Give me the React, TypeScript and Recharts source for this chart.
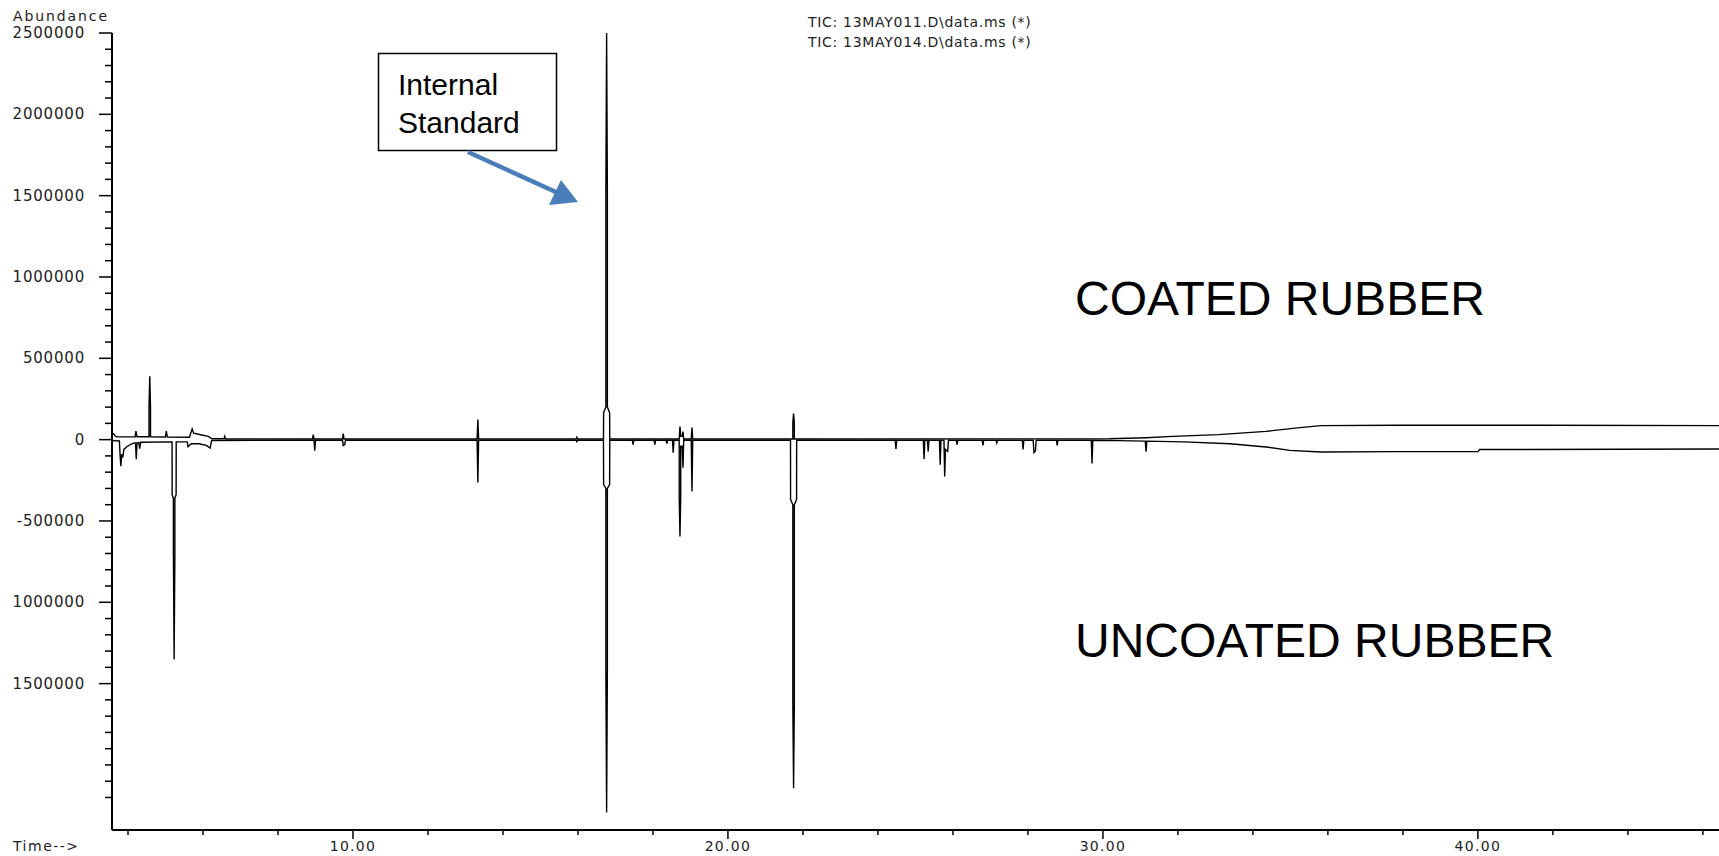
// Mirrored TIC chromatogram: coated vs uncoated rubber

import React from "react";
import { LineChart, Line, XAxis, YAxis } from "recharts";

// time axis (min)
const timeDomain = [3.573, 46.43];
const timeTicks = Array.from({ length: 22 }, (_, i) => 4 + i * 2);
const timeLabels = [10, 20, 30, 40];

// abundance axis
const abundanceDomain = [-2400000, 2500000];
const abundanceTicks = Array.from({ length: 48 }, (_, i) => -2200000 + i * 100000);
const abundanceLabelValues = [2500000, 2000000, 1500000, 1000000, 500000, 0, -500000, -1000000, -1500000];
const abundanceLabelTexts = ["2500000", "2000000", "1500000", "1000000", "500000", "0", "-500000", "1000000", "1500000"];

// 13MAY011 - coated rubber, [time, abundance]
const coatedTrace: [number, number][] = [
  [3.6, 40000], [3.67, 20000], [3.73, 17000],
  [4.19, 17000], [4.21, 52000], [4.24, 18000],
  [4.56, 18000], [4.56, 196000], [4.58, 389000], [4.6, 196000], [4.6, 18000],
  [5.0, 16000], [5.02, 53000], [5.05, 16000],
  [5.64, 15000], [5.71, 66000], [5.75, 40000], [5.94, 30000], [6.14, 20000], [6.24, 5000],
  [6.56, 5000], [6.58, 20000], [6.6, 4000],
  [8.92, 4000], [8.94, 31000], [8.96, 4000],
  [9.72, 4000], [9.74, 37000], [9.76, 4000],
  [13.31, 4000], [13.33, 123000], [13.35, 4000],
  [15.95, 4000], [15.97, 15000], [15.99, 4000],
  [16.68, 4000], [16.684, 166000], [16.744, 200000], [16.744, 1525000], [16.764, 2500000],
  [16.784, 1525000], [16.784, 200000], [16.844, 166000], [16.848, 4000],
  [18.7, 4000], [18.72, 80000], [18.74, 20000], [18.78, 20000], [18.8, 50000], [18.82, 4000],
  [19.02, 4000], [19.04, 74000], [19.06, 4000],
  [21.73, 4000], [21.73, 104000], [21.75, 160000], [21.77, 104000], [21.77, 4000],
  [30.17, 5000], [31.15, 12000], [31.86, 20000], [33.08, 31000], [34.35, 51000], [35.19, 72000],
  [35.81, 86000], [37.81, 88000], [41.77, 88000], [46.43, 86000],
];

// 13MAY014 - uncoated rubber, plotted mirrored (negative)
const uncoatedTrace: [number, number][] = [
  [3.6, -6000], [3.77, -8000], [3.79, -102000], [3.81, -164000], [3.83, -90000], [3.86, -110000],
  [3.89, -60000], [3.96, -45000], [4.06, -30000], [4.16, -20000],
  [4.2, -20000], [4.22, -121000], [4.24, -20000],
  [4.29, -18000], [4.31, -55000], [4.34, -16000],
  [5.175, -14000], [5.177, -338000], [5.21, -360000], [5.21, -686000], [5.23, -1351000],
  [5.25, -686000], [5.25, -360000], [5.283, -338000], [5.285, -14000],
  [5.58, -14000], [5.6, -43000], [5.69, -25000], [5.89, -25000], [6.09, -35000], [6.19, -52000], [6.23, -5000],
  [8.96, -4000], [8.98, -68000], [9.0, -4000],
  [9.72, -4000], [9.74, -37000], [9.78, -31000], [9.8, -4000],
  [13.31, -4000], [13.33, -264000], [13.35, -4000],
  [15.95, -4000], [15.97, -12000], [15.99, -4000],
  [16.68, -4000], [16.684, -276000], [16.744, -300000], [16.744, -1419000], [16.764, -2292000],
  [16.784, -1419000], [16.784, -300000], [16.844, -276000], [16.848, -4000],
  [17.45, -4000], [17.47, -30000], [17.49, -4000],
  [18.03, -4000], [18.05, -30000], [18.07, -4000],
  [18.35, -4000], [18.37, -25000], [18.39, -4000],
  [18.52, -4000], [18.54, -80000], [18.56, -4000],
  [18.7, -4000], [18.7, -350000], [18.72, -596000], [18.74, -350000], [18.74, -40000], [18.78, -40000], [18.8, -172000], [18.82, -4000],
  [19.02, -4000], [19.04, -319000], [19.06, -4000],
  [21.668, -4000], [21.67, -369000], [21.73, -400000], [21.73, -1622000], [21.75, -2144000],
  [21.77, -1622000], [21.77, -400000], [21.83, -369000], [21.832, -4000],
  [24.46, -4000], [24.48, -57000], [24.5, -4000],
  [25.21, -4000], [25.23, -119000], [25.25, -4000],
  [25.32, -4000], [25.34, -72000], [25.36, -4000],
  [25.64, -4000], [25.66, -154000], [25.68, -4000],
  [25.76, -4000], [25.78, -227000], [25.8, -60000], [25.86, -72000], [25.88, -4000],
  [26.09, -4000], [26.11, -30000], [26.13, -4000],
  [26.78, -4000], [26.8, -35000], [26.82, -4000],
  [27.15, -4000], [27.17, -20000], [27.19, -4000],
  [27.85, -4000], [27.87, -61000], [27.89, -4000],
  [28.14, -4000], [28.16, -80000], [28.2, -70000], [28.22, -4000],
  [28.76, -4000], [28.78, -35000], [28.8, -4000],
  [29.69, -4000], [29.71, -147000], [29.73, -4000],
  [30.37, -6000], [31.13, -9000], [31.15, -74000], [31.17, -9000],
  [32.16, -14000], [33.39, -25000], [34.35, -45000], [34.98, -66000], [35.81, -76000],
  [37.81, -74000], [40.0, -74000], [40.05, -61000], [46.43, -58000],
];

const smallFont = "'DejaVu Sans', sans-serif";
const bigFont = "'Liberation Sans', Arial, sans-serif";

function AbundanceTick({ x, y, payload }: any) {
  const idx = abundanceLabelValues.indexOf(payload.value);
  const major = idx >= 0;
  return (
    <g>
      <line x1={x - (major ? 13 : 7)} x2={x} y1={y} y2={y} stroke="#000" strokeWidth={1.5} />
      {major && (
        <text
          x={x - 27}
          y={y}
          textAnchor="end"
          dominantBaseline="central"
          fontFamily={smallFont}
          fontSize={15}
          letterSpacing={0.8}
          fill="#222"
        >
          {abundanceLabelTexts[idx]}
        </text>
      )}
    </g>
  );
}

function TimeTick({ x, y, payload }: any) {
  const major = timeLabels.includes(payload.value);
  return (
    <g>
      <line x1={x} x2={x} y1={y} y2={y + (major ? 9 : 5)} stroke="#000" strokeWidth={1.5} />
      {major && (
        <text
          x={x}
          y={y + 16}
          textAnchor="middle"
          dominantBaseline="central"
          fontFamily={smallFont}
          fontSize={14}
          letterSpacing={1.3}
          fill="#222"
        >
          {payload.value.toFixed(2)}
        </text>
      )}
    </g>
  );
}

export default function App() {
  const coated = coatedTrace.map(([t, v]) => ({ t, v }));
  const uncoated = uncoatedTrace.map(([t, v]) => ({ t, v }));

  return (
    <div style={{ position: "absolute", left: 0, top: 0, width: 1719, height: 856, background: "#fff" }}>
      <LineChart width={1719} height={856} margin={{ top: 33, right: 0, bottom: 0, left: 0 }}>
        <XAxis
          type="number"
          dataKey="t"
          domain={timeDomain}
          allowDataOverflow
          ticks={timeTicks}
          interval={0}
          height={26}
          tickSize={0}
          tickMargin={0}
          tickLine={false}
          axisLine={{ stroke: "#000", strokeWidth: 2 }}
          tick={<TimeTick />}
        />
        <YAxis
          type="number"
          domain={abundanceDomain}
          allowDataOverflow
          ticks={abundanceTicks}
          interval={0}
          width={112}
          tickSize={0}
          tickMargin={0}
          tickLine={false}
          axisLine={{ stroke: "#000", strokeWidth: 2 }}
          tick={<AbundanceTick />}
        />
        <Line data={coated} dataKey="v" type="linear" stroke="#000" strokeWidth={1.4} dot={false} isAnimationActive={false} />
        <Line data={uncoated} dataKey="v" type="linear" stroke="#000" strokeWidth={1.4} dot={false} isAnimationActive={false} />
      </LineChart>

      {/* annotations */}
      <svg width={1719} height={856} style={{ position: "absolute", left: 0, top: 0, pointerEvents: "none" }}>
        <text x={13} y={16} dominantBaseline="central" fontFamily={smallFont} fontSize={14} letterSpacing={1.9} fill="#222">
          Abundance
        </text>
        <text x={13} y={846} dominantBaseline="central" fontFamily={smallFont} fontSize={14} letterSpacing={1.5} fill="#222">
          Time--&gt;
        </text>
        <text x={808} y={22} dominantBaseline="central" fontFamily={smallFont} fontSize={14} letterSpacing={0.7} fill="#222">
          TIC: 13MAY011.D\data.ms (*)
        </text>
        <text x={808} y={42} dominantBaseline="central" fontFamily={smallFont} fontSize={14} letterSpacing={0.7} fill="#222">
          TIC: 13MAY014.D\data.ms (*)
        </text>

        <rect x={378.5} y={53.5} width={178} height={97} fill="#fff" stroke="#000" strokeWidth={1.5} />
        <text x={398} y={95} fontFamily={bigFont} fontSize={30} fill="#000">Internal</text>
        <text x={398} y={133} fontFamily={bigFont} fontSize={30} fill="#000">Standard</text>
        <line x1={468} y1={152} x2={558} y2={193} stroke="#4A7EBB" strokeWidth={4.5} />
        <polygon points="578,202 561,180 549,205" fill="#4A7EBB" />

        <text x={1075} y={298} dominantBaseline="central" fontFamily={bigFont} fontSize={48} fill="#000">
          COATED RUBBER
        </text>
        <text x={1075} y={640} dominantBaseline="central" fontFamily={bigFont} fontSize={48} fill="#000">
          UNCOATED RUBBER
        </text>
      </svg>
    </div>
  );
}
